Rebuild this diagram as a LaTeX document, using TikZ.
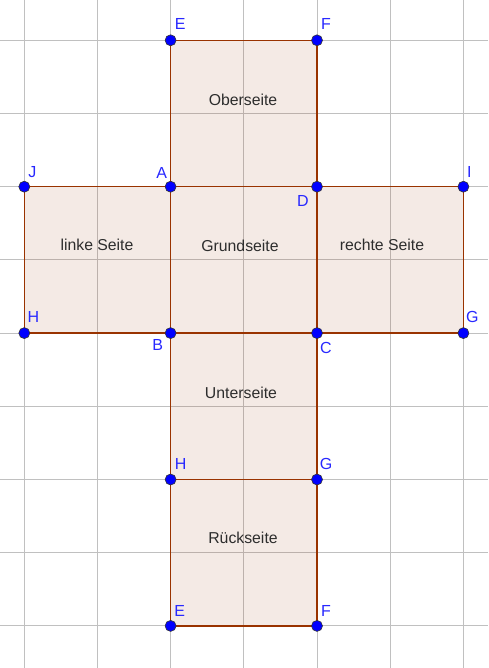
\documentclass[tikz,border=0pt]{standalone}
\usepackage{fontspec}
\setmainfont{Liberation Sans}
\usetikzlibrary{calc}
\definecolor{gridgray}{RGB}{192,192,192}
\definecolor{edgebrown}{RGB}{153,51,0}
\definecolor{ptblue}{RGB}{0,0,255}
\definecolor{lblblue}{RGB}{40,40,255}
\definecolor{facetext}{RGB}{45,45,45}
\tikzset{
  gridline/.style={draw=gridgray, line width=1pt},
  facefill/.style={fill=edgebrown, fill opacity=0.1},
  faceedge/.style={draw=edgebrown, line width=1.3pt},
  pt/.style={circle, fill=ptblue, draw=black!80, line width=0.6pt, inner sep=0pt, minimum size=11pt},
  lbl/.style={text=lblblue, font=\fontsize{16}{19}\selectfont, inner sep=0pt},
  facelbl/.style={text=facetext, font=\fontsize{15.8}{19}\selectfont, inner sep=0pt}
}
\begin{document}
\begin{tikzpicture}[x=1pt,y=-1pt]
\useasboundingbox (0,0) rectangle (488,668);
\fill[white] (0,0) rectangle (488,668);
% grid
\foreach \gx in {24.3,97.5,170.6,243.8,317,390.2,463.4} {\draw[gridline] (\gx,0) -- (\gx,668);}
\foreach \gy in {40.3,113.5,186.7,259.9,333.1,406.3,479.5,552.7,625.9} {\draw[gridline] (0,\gy) -- (488,\gy);}
% coordinates
\coordinate (E1) at (170.6,40.3);
\coordinate (F1) at (317,40.3);
\coordinate (J) at (24.3,186.7);
\coordinate (A) at (170.6,186.7);
\coordinate (D) at (317,186.7);
\coordinate (I) at (463.4,186.7);
\coordinate (H1) at (24.3,333.1);
\coordinate (B) at (170.6,333.1);
\coordinate (C) at (317,333.1);
\coordinate (G1) at (463.4,333.1);
\coordinate (H2) at (170.6,479.5);
\coordinate (G2) at (317,479.5);
\coordinate (E2) at (170.6,625.9);
\coordinate (F2) at (317,625.9);
% faces
\path[facefill] (E1) -- (F1) -- (D) -- (A) -- cycle;
\path[facefill] (A) -- (D) -- (C) -- (B) -- cycle;
\path[facefill] (J) -- (A) -- (B) -- (H1) -- cycle;
\path[facefill] (D) -- (I) -- (G1) -- (C) -- cycle;
\path[facefill] (B) -- (C) -- (G2) -- (H2) -- cycle;
\path[facefill] (H2) -- (G2) -- (F2) -- (E2) -- cycle;
\draw[faceedge] (E1) -- (F1) -- (D) -- (A) -- cycle;
\draw[faceedge] (A) -- (D) -- (C) -- (B) -- cycle;
\draw[faceedge] (J) -- (A) -- (B) -- (H1) -- cycle;
\draw[faceedge] (D) -- (I) -- (G1) -- (C) -- cycle;
\draw[faceedge] (B) -- (C) -- (G2) -- (H2) -- cycle;
\draw[faceedge] (H2) -- (G2) -- (F2) -- (E2) -- cycle;
% face labels
\node[facelbl] (tOben) at (243,100) {Oberseite};
\node[facelbl] (tGrund) at (240,246) {Grundseite};
\node[facelbl] (tLinks) at (97,245) {linke Seite};
\node[facelbl] (tRechts) at (382,245) {rechte Seite};
\node[facelbl] (tUnten) at (241,393) {Unterseite};
\node[facelbl] (tRueck) at (243,538) {Rückseite};
% points
\foreach \p in {E1,F1,J,A,D,I,H1,B,C,G1,H2,G2,E2,F2} {\node[pt] (p\p) at (\p) {};}
% point labels
\node[lbl] (lE1) at ($(E1)+(9.5,-16)$) {E};
\node[lbl] (lF1) at ($(F1)+(9,-16)$) {F};
\node[lbl] (lJ) at ($(J)+(8,-15)$) {J};
\node[lbl] (lA) at ($(A)+(-9,-14)$) {A};
\node[lbl] (lD) at ($(D)+(-14,14)$) {D};
\node[lbl] (lI) at ($(I)+(6,-15)$) {I};
\node[lbl] (lH1) at ($(H1)+(9,-16)$) {H};
\node[lbl] (lB) at ($(B)+(-13,12)$) {B};
\node[lbl] (lC) at ($(C)+(9,15)$) {C};
\node[lbl] (lG1) at ($(G1)+(9,-16)$) {G};
\node[lbl] (lH2) at ($(H2)+(10,-16)$) {H};
\node[lbl] (lG2) at ($(G2)+(9,-16)$) {G};
\node[lbl] (lE2) at ($(E2)+(9,-15)$) {E};
\node[lbl] (lF2) at ($(F2)+(9,-15)$) {F};
\end{tikzpicture}
\end{document}
